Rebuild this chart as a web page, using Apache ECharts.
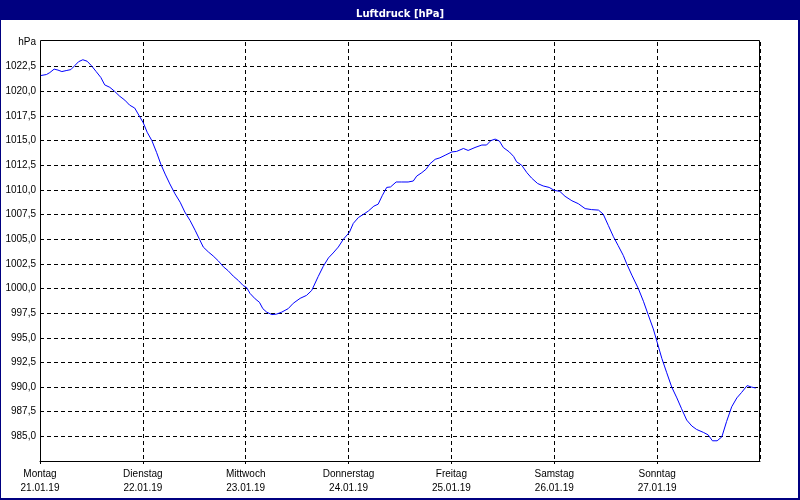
<!DOCTYPE html>
<html>
<head>
<meta charset="utf-8">
<script src="https://cdn.jsdelivr.net/npm/echarts@6/dist/echarts.min.js"></script>
<style>
html,body{margin:0;padding:0;background:#fff;}
#c{width:800px;height:500px;}
</style>
</head>
<body>
<div id="c"></div>
<script>
var titleText = 'Luftdruck [hPa]';
var dayNames = ['Montag','Dienstag','Mittwoch','Donnerstag','Freitag','Samstag','Sonntag'];
var dayDates = ['21.01.19','22.01.19','23.01.19','24.01.19','25.01.19','26.01.19','27.01.19'];
// hours since Monday 00:00
var hours = [0.2,1.5,2.3,3.3,4.2,5.1,6.1,7.2,8.1,9.0,10.0,11.0,12.0,13.1,14.2,15.1,16.3,17.4,18.6,19.8,20.9,22.1,22.9,24.1,25.0,26.1,27.2,28.2,29.2,30.3,31.5,32.7,33.8,35.0,36.2,37.2,38.1,39.3,40.4,41.6,42.8,43.9,45.1,46.3,47.4,48.2,49.0,50.2,51.2,52.0,52.9,54.1,55.2,56.4,57.9,59.1,60.7,62.2,63.4,64.9,66.1,67.3,68.4,69.6,70.8,72.2,73.1,74.3,75.4,76.6,77.9,78.9,79.9,80.9,81.8,83.1,84.4,85.9,87.1,87.9,89.1,90.1,91.0,92.2,93.3,94.7,96.1,97.2,98.8,99.9,101.5,103.1,104.2,105.2,106.2,107.2,108.1,109.5,110.5,111.2,112.4,113.6,114.7,116.1,117.4,118.8,120.0,121.3,122.5,124.1,125.6,127.2,128.7,130.3,131.4,132.6,133.8,134.9,136.1,136.9,138.1,139.6,140.8,141.9,143.1,144.1,145.1,146.2,147.4,148.6,149.7,150.9,152.1,153.2,154.8,155.9,156.9,158.0,159.1,160.2,161.4,162.6,163.7,165.0,166.0,167.0];
var pressure = [1021.6,1021.7,1021.9,1022.25,1022.15,1022.0,1022.1,1022.2,1022.6,1023.0,1023.2,1023.05,1022.6,1022.0,1021.4,1020.65,1020.4,1020.0,1019.5,1019.1,1018.6,1018.3,1017.7,1016.8,1015.85,1015.0,1013.8,1012.6,1011.6,1010.6,1009.6,1008.75,1007.75,1006.9,1005.9,1005.0,1004.2,1003.7,1003.3,1002.8,1002.2,1001.8,1001.25,1000.8,1000.3,1000.1,999.5,998.95,998.6,997.95,997.6,997.35,997.4,997.6,997.95,998.5,999.0,999.3,999.8,1001.2,1002.25,1003.1,1003.6,1004.2,1005.0,1005.7,1006.6,1007.2,1007.5,1007.85,1008.35,1008.55,1009.45,1010.25,1010.3,1010.8,1010.8,1010.8,1010.9,1011.4,1011.75,1012.1,1012.65,1013.1,1013.25,1013.55,1013.85,1013.9,1014.2,1014.0,1014.3,1014.55,1014.55,1015.0,1015.15,1014.95,1014.3,1013.85,1013.4,1012.85,1012.5,1011.75,1011.2,1010.65,1010.4,1010.25,1009.95,1009.85,1009.35,1008.9,1008.6,1008.1,1008.0,1007.95,1007.55,1006.4,1005.25,1004.35,1003.35,1002.5,1001.35,1000.0,998.7,997.35,995.9,994.4,992.9,991.5,990.0,988.9,987.8,986.65,986.05,985.7,985.4,985.15,984.55,984.55,984.95,986.5,988.0,988.9,989.45,990.15,990.0,989.9];

var seriesData = hours.map(function(h,i){ return [h, pressure[i]]; });
var FONT = 'Liberation Sans';

var chart = echarts.init(document.getElementById('c'), null, {renderer:'canvas'});
chart.setOption({
  animation:false,
  backgroundColor:'#ffffff',
  title:{
    text:titleText, left:'center', top:4,
    textStyle:{color:'#ffffff', fontSize:10, fontWeight:'bold', fontFamily:'DejaVu Sans'}
  },
  graphic:[
    {type:'rect', left:0, top:0, z:-1, shape:{width:800,height:20}, style:{fill:'#000080'}},
    {type:'rect', left:0, top:0, z:-1, shape:{width:1,height:500}, style:{fill:'#000080'}},
    {type:'rect', left:798, top:0, z:-1, shape:{width:2,height:500}, style:{fill:'#000080'}},
    {type:'rect', left:0, top:498, z:-1, shape:{width:800,height:2}, style:{fill:'#000080'}},
    {type:'polyline', z:10, silent:true,
      shape:{points:[[40.5,43],[40.5,40.5],[759.5,40.5],[759.5,461]]},
      style:{stroke:'#000', lineWidth:1, fill:null}}
  ],
  grid:{left:40, right:40, top:42, bottom:39, show:false},
  xAxis:{
    type:'value', min:0, max:168, interval:24,
    axisLine:{show:true, lineStyle:{color:'#000', width:1}},
    axisTick:{show:true, length:3, lineStyle:{color:'#000'}},
    splitLine:{show:true, lineStyle:{color:'#000', type:[4,3], width:1}},
    axisLabel:{
      margin:6, color:'#000', fontSize:10, fontFamily:FONT, lineHeight:14,
      showMaxLabel:false,
      formatter:function(v){ var i=Math.round(v/24); return i<dayNames.length ? dayNames[i]+'\n'+dayDates[i] : ''; }
    }
  },
  yAxis:{
    type:'value', min:982.5, max:1025, interval:2.5,
    axisLine:{show:true, lineStyle:{color:'#000', width:1}},
    axisTick:{show:false},
    splitLine:{show:true, showMaxLine:false, showMinLine:false, lineStyle:{color:'#000', type:[4,3], width:1}},
    axisLabel:{
      margin:4, color:'#000', fontSize:10, fontFamily:FONT,
      showMinLabel:true, showMaxLabel:true,
      formatter:function(v){
        if (v >= 1025) return 'hPa';
        if (v <= 982.5) return '';
        return v.toFixed(1).replace('.', ',');
      }
    }
  },
  series:[{
    type:'line', data:seriesData, showSymbol:false, symbol:'none',
    lineStyle:{color:'#0000ff', width:1}, itemStyle:{color:'#0000ff'}
  }]
});
</script>
</body>
</html>
